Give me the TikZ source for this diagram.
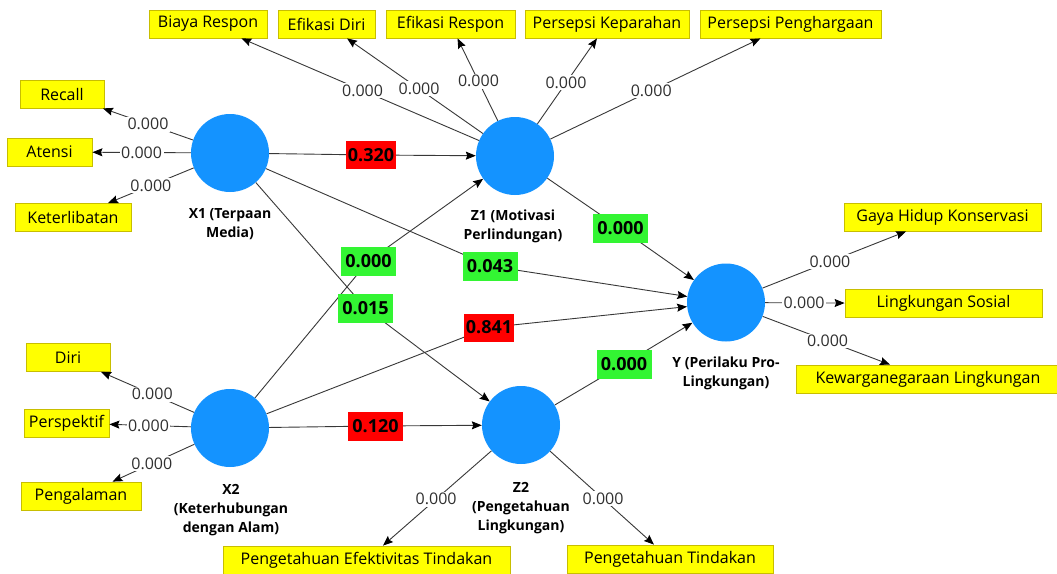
\documentclass[tikz,border=0pt]{standalone}
\usepackage{fontspec}
\setmainfont{Open Sans}
\usetikzlibrary{arrows.meta}
\definecolor{lvblue}{HTML}{1493FF}
\definecolor{boxyellow}{HTML}{FFFF00}
\definecolor{boxborder}{HTML}{C8BE00}
\definecolor{sigGreen}{HTML}{33F533}
\definecolor{sigRed}{HTML}{FF0000}
\definecolor{edgegray}{HTML}{383838}
\definecolor{coeftext}{HTML}{303030}
\begin{document}
\begin{tikzpicture}[x=1pt,y=-1pt,
  lv/.style={circle, fill=lvblue, minimum size=78pt, inner sep=0pt},
  lvlabel/.style={font=\bfseries\fontsize{14}{19}\selectfont, align=center, inner sep=0pt},
  ind/.style={draw=boxborder, fill=boxyellow, line width=0.8pt, minimum height=28pt, inner sep=0pt, font=\fontsize{16}{18}\selectfont},
  coef/.style={fill=white, inner sep=1.5pt, text=coeftext, font=\fontsize{16}{18}\selectfont},
  pgreen/.style={fill=sigGreen, minimum width=55pt, minimum height=29pt, inner sep=0pt, font=\bfseries\fontsize{18}{20}\selectfont},
  pred/.style={fill=sigRed, minimum width=50pt, minimum height=28pt, inner sep=0pt, font=\bfseries\fontsize{18}{20}\selectfont},
  edge/.style={draw=edgegray, line width=0.9pt},
  arr/.style={edge, -{Stealth[length=10pt,width=8pt,inset=1.5pt,color=black]}}
]
\useasboundingbox[fill=white] (0,0) rectangle (1057,573);

% latent variables
\node[lv] (X1) at (230,153) {};
\node[lv] (Z1) at (515,156) {};
\node[lv] (Y) at (726,302.5) {};
\node[lv] (X2) at (230,428) {};
\node[lv] (Z2) at (521,425) {};

\node[lvlabel] (X1t) at (230,224.5) {X1 (Terpaan\\Media)};
\node[lvlabel] (Z1t) at (513,226.5) {Z1 (Motivasi\\Perlindungan)};
\node[lvlabel] (Yt) at (726,373.5) {Y (Perilaku Pro-\\Lingkungan)};
\node[lvlabel] (X2t) at (231,510.5) {X2\\(Keterhubungan\\dengan Alam)};
\node[lvlabel] (Z2t) at (521,508.5) {Z2\\(Pengetahuan\\Lingkungan)};

% indicators
\node[ind, minimum width=118pt] (bBiaya) at (208,24) {Biaya Respon};
\node[ind, minimum width=97pt] (bEfDiri) at (326.5,24) {Efikasi Diri};
\node[ind, minimum width=129pt] (bEfResp) at (450.5,24) {Efikasi Respon};
\node[ind, minimum width=164pt] (bKepar) at (607,24) {Persepsi Keparahan};
\node[ind, minimum width=181pt] (bPengh) at (790.5,24) {Persepsi Penghargaan};
\node[ind, minimum width=84pt] (bRecall) at (62,94) {Recall};
\node[ind, minimum width=85pt] (bAtensi) at (49.5,152) {Atensi};
\node[ind, minimum width=116pt] (bKeter) at (73,217.5) {Keterlibatan};
\node[ind, minimum width=84pt] (bDiri) at (68,357.5) {Diri};
\node[ind, minimum width=85pt] (bPersp) at (66.5,423) {Perspektif};
\node[ind, minimum width=120pt] (bPengal) at (81,496) {Pengalaman};
\node[ind, minimum width=287pt] (bPET) at (366.5,560) {Pengetahuan Efektivitas Tindakan};
\node[ind, minimum width=206pt] (bPT) at (670,559) {Pengetahuan Tindakan};
\node[ind, minimum width=197pt] (bGaya) at (942.5,217) {Gaya Hidup Konservasi};
\node[ind, minimum width=197pt] (bLS) at (943.5,303.5) {Lingkungan Sosial};
\node[ind, minimum width=263pt] (bKL) at (928,379) {Kewarganegaraan Lingkungan};

% outer loadings
\draw[arr] (Z1) -- node[coef,pos=0.49]{0.000} (bBiaya);
\draw[arr] (Z1) -- node[coef,pos=0.47]{0.000} (bEfDiri);
\draw[arr] (Z1) -- node[coef,pos=0.48]{0.000} (bEfResp);
\draw[arr] (Z1) -- node[coef,pos=0.48]{0.000} (bKepar);
\draw[arr] (Z1) -- node[coef,pos=0.48]{0.000} (bPengh);
\draw[arr] (X1) -- node[coef,pos=0.5]{0.000} (bRecall);
\draw[arr] (X1) -- node[coef,pos=0.5]{0.000} (bAtensi);
\draw[arr] (X1) -- node[coef,pos=0.5]{0.000} (bKeter);
\draw[arr] (X2) -- node[coef,pos=0.45]{0.000} (bDiri);
\draw[arr] (X2) -- node[coef,pos=0.52]{0.000} (bPersp);
\draw[arr] (X2) -- node[coef,pos=0.52]{0.000} (bPengal);
\draw[arr] (Z2) -- node[coef,pos=0.51]{0.000} (bPET);
\draw[arr] (Z2) -- node[coef,pos=0.51]{0.000} (bPT);
\draw[arr] (Y) -- node[coef,pos=0.47]{0.000} (bGaya);
\draw[arr] (Y) -- node[coef,pos=0.49]{0.000} (bLS);
\draw[arr] (Y) -- node[coef,pos=0.51]{0.000} (bKL);

% inner paths
\coordinate (cA) at (371,155);
\coordinate (cB) at (368.5,261);
\coordinate (cC) at (490,266);
\coordinate (cD) at (365.5,308);
\coordinate (cE) at (489,327.5);
\coordinate (cF) at (375.5,426);
\coordinate (cG) at (620.5,228.5);
\coordinate (cH) at (624,364);

\draw[arr] (X1) -- (cA) -- (Z1);
\draw[arr] (X2) -- (cB) -- (Z1);
\draw[arr] (X1) -- (cC) -- (Y);
\draw[arr] (X1) -- (cD) -- (Z2);
\draw[arr] (X2) -- (cE) -- (Y);
\draw[arr] (X2) -- (cF) -- (Z2);
\draw[arr] (Z1) -- (cG) -- (Y);
\draw[arr] (Z2) -- (cH) -- (Y);

\node[pred] (pA) at (cA) {0.320};
\node[pgreen] (pB) at (cB) {0.000};
\node[pgreen] (pC) at (cC) {0.043};
\node[pgreen] (pD) at (cD) {0.015};
\node[pred] (pE) at (cE) {0.841};
\node[pred, minimum width=55pt, minimum height=29pt] (pF) at (cF) {0.120};
\node[pgreen] (pG) at (cG) {0.000};
\node[pgreen] (pH) at (cH) {0.000};
\end{tikzpicture}
\end{document}
